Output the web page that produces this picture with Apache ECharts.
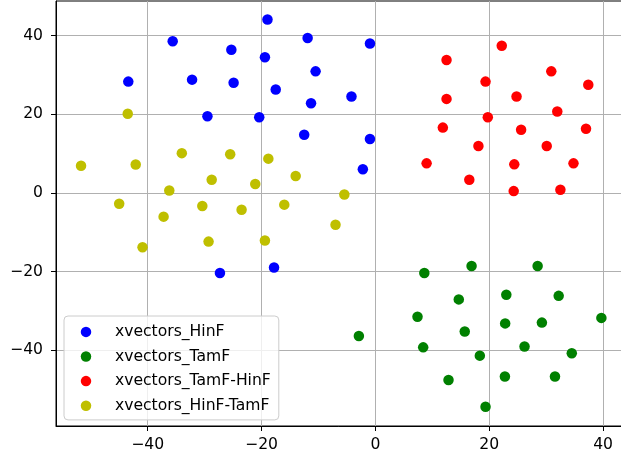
<!DOCTYPE html>
<html>
<head>
<meta charset="utf-8">
<script src="https://cdn.jsdelivr.net/npm/echarts@6/dist/echarts.min.js"></script>
<style>
html,body{margin:0;padding:0;background:#fff;}
#chart{width:621px;height:461px;}
</style>
</head>
<body>
<div id="chart"></div>
<script>
const seriesNames = ['xvectors_HinF', 'xvectors_TamF', 'xvectors_TamF-HinF', 'xvectors_HinF-TamF'];
const seriesColors = ['#0000ff', '#008000', '#ff0000', '#bfbf00'];

const hinF = [[-43.4,28.3],[-35.6,38.55],[-25.3,36.4],[-32.2,28.8],[-24.9,28.0],[-29.5,19.5],[-18.95,44.1],[-11.9,39.4],[-0.95,38.0],[-19.4,34.5],[-10.5,30.9],[-17.5,26.3],[-11.3,22.8],[-4.2,24.5],[-20.4,19.25],[-12.5,14.8],[-0.95,13.7],[-2.2,6.0],[-27.3,-20.4],[-17.8,-19.0]];
const tamF = [[16.9,-18.6],[28.5,-18.6],[8.6,-20.4],[23.0,-25.9],[32.2,-26.2],[14.65,-27.1],[7.4,-31.5],[22.8,-33.2],[29.25,-33.0],[39.7,-31.8],[15.7,-35.25],[8.4,-39.3],[26.2,-39.1],[18.35,-41.4],[34.5,-40.8],[12.85,-47.6],[22.75,-46.7],[31.55,-46.7],[19.35,-54.4],[-2.9,-36.4]];
const tamFHinF = [[22.2,37.4],[12.5,33.8],[30.9,30.9],[19.35,28.3],[37.4,27.5],[12.5,23.9],[24.8,24.5],[31.95,20.7],[19.75,19.25],[11.85,16.6],[25.6,16.05],[37.0,16.3],[18.1,11.9],[30.1,11.9],[9.0,7.5],[24.4,7.25],[34.8,7.5],[16.5,3.35],[24.3,0.45],[32.5,0.8]];
const hinFTamF = [[-43.5,20.1],[-34.0,10.1],[-25.5,9.8],[-51.7,6.9],[-42.1,7.2],[-28.75,3.35],[-36.2,0.6],[-45.0,-2.75],[-30.4,-3.35],[-23.5,-4.3],[-37.2,-6.05],[-29.3,-12.4],[-40.9,-13.85],[-18.8,8.7],[-21.1,2.25],[-14.0,4.3],[-5.45,-0.4],[-16.0,-3.0],[-7.0,-8.1],[-19.4,-12.1]];

const xTicks = [-40, -20, 0, 20, 40];
const yTicks = [-40, -20, 0, 20, 40];
const xRange = [-56.1, 44.2];
const yRange = [-59.3, 48.8];

const allData = [hinF, tamF, tamFHinF, hinFTamF];
const fontFam = 'DejaVu Sans';
const fs = 15.6;
const fmt = v => String(v).replace('-', '\u2212');

const chart = echarts.init(document.getElementById('chart'), null, {renderer: 'canvas'});
chart.setOption({
  animation: false,
  backgroundColor: '#ffffff',
  grid: {left: 56, top: 1, width: 571, height: 425, outerBoundsMode: 'none', containLabel: false,
         show: true, borderColor: '#000', borderWidth: 1, backgroundColor: 'transparent'},
  xAxis: {
    type: 'value', min: xRange[0], max: xRange[1],
    axisLine: {show: true, onZero: false, lineStyle: {color: '#000', width: 1}},
    axisTick: {show: true, inside: false, length: 5, lineStyle: {color: '#000', width: 1}, customValues: xTicks},
    axisLabel: {show: true, margin: 11, color: '#000', fontSize: fs, fontFamily: fontFam, formatter: fmt, customValues: xTicks},
    splitLine: {show: true, lineStyle: {color: '#b0b0b0', width: 1}}
  },
  yAxis: {
    type: 'value', min: yRange[0], max: yRange[1],
    axisLine: {show: true, onZero: false, lineStyle: {color: '#000', width: 1}},
    axisTick: {show: true, inside: false, length: 5, lineStyle: {color: '#000', width: 1}, customValues: yTicks},
    axisLabel: {show: true, margin: 13, color: '#000', fontSize: fs, fontFamily: fontFam, formatter: fmt, customValues: yTicks},
    splitLine: {show: true, lineStyle: {color: '#b0b0b0', width: 1}}
  },
  legend: {
    show: true,
    orient: 'vertical',
    left: 64, top: 316,
    padding: [7.9, 8, 6.2, 16.75],
    itemWidth: 10.5, itemHeight: 10.5, itemGap: 8.6,
    icon: 'circle',
    backgroundColor: 'rgba(255,255,255,0.8)',
    borderColor: '#cccccc', borderWidth: 1, borderRadius: 4,
    textStyle: {fontSize: fs, lineHeight: fs, fontFamily: fontFam, color: '#000', padding: [0, 0, 0, 18.75]},
    data: seriesNames
  },
  series: allData.map((d, i) => ({
    name: seriesNames[i],
    type: 'scatter',
    data: d,
    symbol: 'circle',
    symbolSize: 10.5,
    itemStyle: {color: seriesColors[i], opacity: 1},
    emphasis: {disabled: true},
    z: 3 + i
  }))
});
</script>
</body>
</html>
